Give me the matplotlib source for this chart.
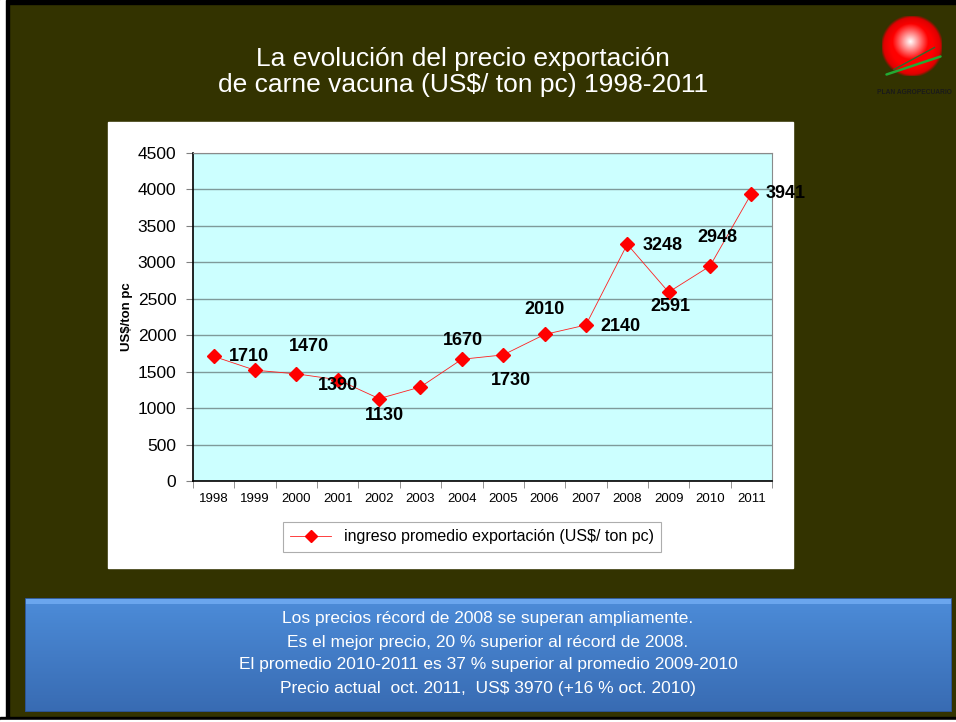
import matplotlib.pyplot as plt
import matplotlib.patches as mpatches
from matplotlib import font_manager
import numpy as np

# data
years = ['1998', '1999', '2000', '2001', '2002', '2003', '2004',
         '2005', '2006', '2007', '2008', '2009', '2010', '2011']
prices = [1710, 1520, 1470, 1390, 1130, 1290, 1670,
          1730, 2010, 2140, 3248, 2591, 2948, 3941]
shown = ['1710', None, '1470', '1390', '1130', None, '1670',
         '1730', '2010', '2140', '3248', '2591', '2948', '3941']
# label offsets in pixels (dx, dy up)
offs = [(35, 0), (0, 0), (13, 27), (0, -6), (5, -17), (0, 0), (1, 19),
        (8, -26), (0, 25), (35, -1), (35, -1), (2, -14), (7, 29), (34, 0)]

title = 'La evolución del precio exportación\nde carne vacuna (US$/ ton pc) 1998-2011'
notes = ['Los precios récord de 2008 se superan ampliamente.',
         'Es el mejor precio, 20 % superior al récord de 2008.',
         'El promedio 2010-2011 es 37 % superior al promedio 2009-2010',
         'Precio actual  oct. 2011,  US$ 3970 (+16 % oct. 2010)']

names = {f.name for f in font_manager.fontManager.ttflist}
if 'Liberation Sans Narrow' in names:
    narrow, tsize, nsize = 'Liberation Sans Narrow', 23, 14.5
else:
    narrow, tsize, nsize = 'Liberation Sans', 19, 12.5
plt.rcParams['font.family'] = ['Liberation Sans', 'DejaVu Sans']

W, H = 956, 722
fig = plt.figure(figsize=(W / 100, H / 100), dpi=100)
fig.patch.set_facecolor('#333300')


def box(x0, y0, x1, y1):
    # pixel box (top-left origin) -> figure fraction
    return [x0 / W, 1 - y1 / H, (x1 - x0) / W, (y1 - y0) / H]


def rect(x0, y0, x1, y1, **kw):
    b = box(x0, y0, x1, y1)
    fig.patches.append(mpatches.Rectangle((b[0], b[1]), b[2], b[3],
                                          transform=fig.transFigure, zorder=-5, **kw))


# slide edges
rect(0, 0, W, 4, color='black')
rect(0, 0, 6, H, color='white')
rect(6, 0, 9, H, color='black')
rect(0, 717, W, 720, color='black')
rect(0, 720, W, H, color='white')

# white chart panel
rect(108, 122, 793, 568, color='white')

fig.text(463 / W, 1 - 72 / H, title, color='white', fontsize=tsize,
         family=narrow, ha='center', va='center', linespacing=1.15)

# chart
ax = fig.add_axes(box(193, 153, 772, 481))
ax.set_zorder(2)
ax.set_facecolor('#CCFFFF')
x = np.arange(len(years))
ax.plot(x, prices, color='#ff2020', lw=0.6, marker='D', ms=7,
        markeredgecolor='red', markerfacecolor='red', zorder=3,
        label='ingreso promedio exportación (US$/ ton pc)')
for i, t in enumerate(shown):
    if t is None:
        continue
    ax.annotate(t, (x[i], prices[i]), xytext=offs[i], textcoords='offset pixels',
                ha='center', va='center', fontsize=13, fontweight='bold', zorder=4,
                annotation_clip=False)

ax.set_xlim(-0.5, len(years) - 0.5)
ax.set_ylim(0, 4500)
ax.set_yticks(range(0, 4501, 500))
ax.set_xticks(x)
ax.set_xticklabels(years, fontsize=9.5)
ax.set_xticks(np.arange(-0.5, len(years), 1), minor=True)
ax.tick_params(axis='x', which='major', length=0, pad=9)
ax.tick_params(axis='x', which='minor', length=5, color='gray')
ax.tick_params(axis='y', labelsize=12.5, length=5, color='gray', pad=7)
ax.yaxis.grid(True, color='#7f9a9a', lw=1)
ax.set_axisbelow(True)
for s in ['top', 'right']:
    ax.spines[s].set_color('#8a8a8a')
for s in ['left', 'bottom']:
    ax.spines[s].set_color('black')
    ax.spines[s].set_linewidth(1.2)
ax.set_ylabel('US$/ton pc', fontsize=9.5, fontweight='bold', labelpad=3)

leg = ax.legend(loc='center', bbox_to_anchor=(472 / W, 1 - 537 / H),
                bbox_transform=fig.transFigure, fontsize=11.5, frameon=True,
                fancybox=False, edgecolor='#999999', handlelength=2.6,
                borderpad=0.45, markerscale=0.85)
leg.get_frame().set_linewidth(0.8)

# blue note box with vertical gradient
bx = fig.add_axes(box(25, 598, 952, 712))
grad = np.linspace(0, 1, 100)[:, None]
top = np.array([0.30, 0.55, 0.85])
bot = np.array([0.22, 0.42, 0.70])
img = top + (bot - top) * grad[:, :, None]
img = np.repeat(img, 2, axis=1)
bx.imshow(img, aspect='auto', extent=[0, 1, 0, 1], origin='upper')
bx.add_patch(mpatches.Rectangle((0, 0.95), 1, 0.05, color='#6aa6ee', lw=0))
bx.add_patch(mpatches.Rectangle((0, 0), 1, 1, fill=False, ec='#2a4f8a', lw=1.2))
bx.set_xlim(0, 1)
bx.set_ylim(0, 1)
bx.axis('off')
for k, line in enumerate(notes):
    fig.text(488 / W, 1 - (619 + 23 * k) / H, line, color='white', fontsize=nsize,
             family=narrow, ha='center', va='center')

# logo
lx = fig.add_axes(box(876, 10, 948, 82))
n = 200
yy, xx = np.mgrid[-1:1:n * 1j, -1:1:n * 1j]
r = np.hypot(xx, yy)
rh = np.hypot(xx + 0.05, yy + 0.15)
t = np.clip(rh / 0.6, 0, 1)
logo = np.zeros((n, n, 4))
logo[..., 0] = 1.0 - 0.15 * np.clip((r - 0.7) / 0.3, 0, 1)
logo[..., 1] = 1 - t
logo[..., 2] = 1 - t
logo[..., 3] = np.where(r <= 0.95, 1, np.clip((1.05 - r) / 0.1, 0, 1))
lx.imshow(logo, extent=[-1, 1, -1, 1], origin='upper')
lx.plot([-0.85, 0.95], [-0.95, -0.35], color='#22aa33', lw=1.8, solid_capstyle='round')
lx.plot([-0.6, 0.75], [-0.78, -0.05], color='#2f6a2a', lw=1.0)
lx.set_xlim(-1.2, 1.2)
lx.set_ylim(-1.1, 1.1)
lx.axis('off')
fig.text(914 / W, 1 - 93 / H, 'PLAN AGROPECUARIO', color='#1a1a1a', fontsize=4.8,
         fontweight='bold', ha='center', va='center')

fig.savefig('out.png', dpi=100, facecolor=fig.get_facecolor())
